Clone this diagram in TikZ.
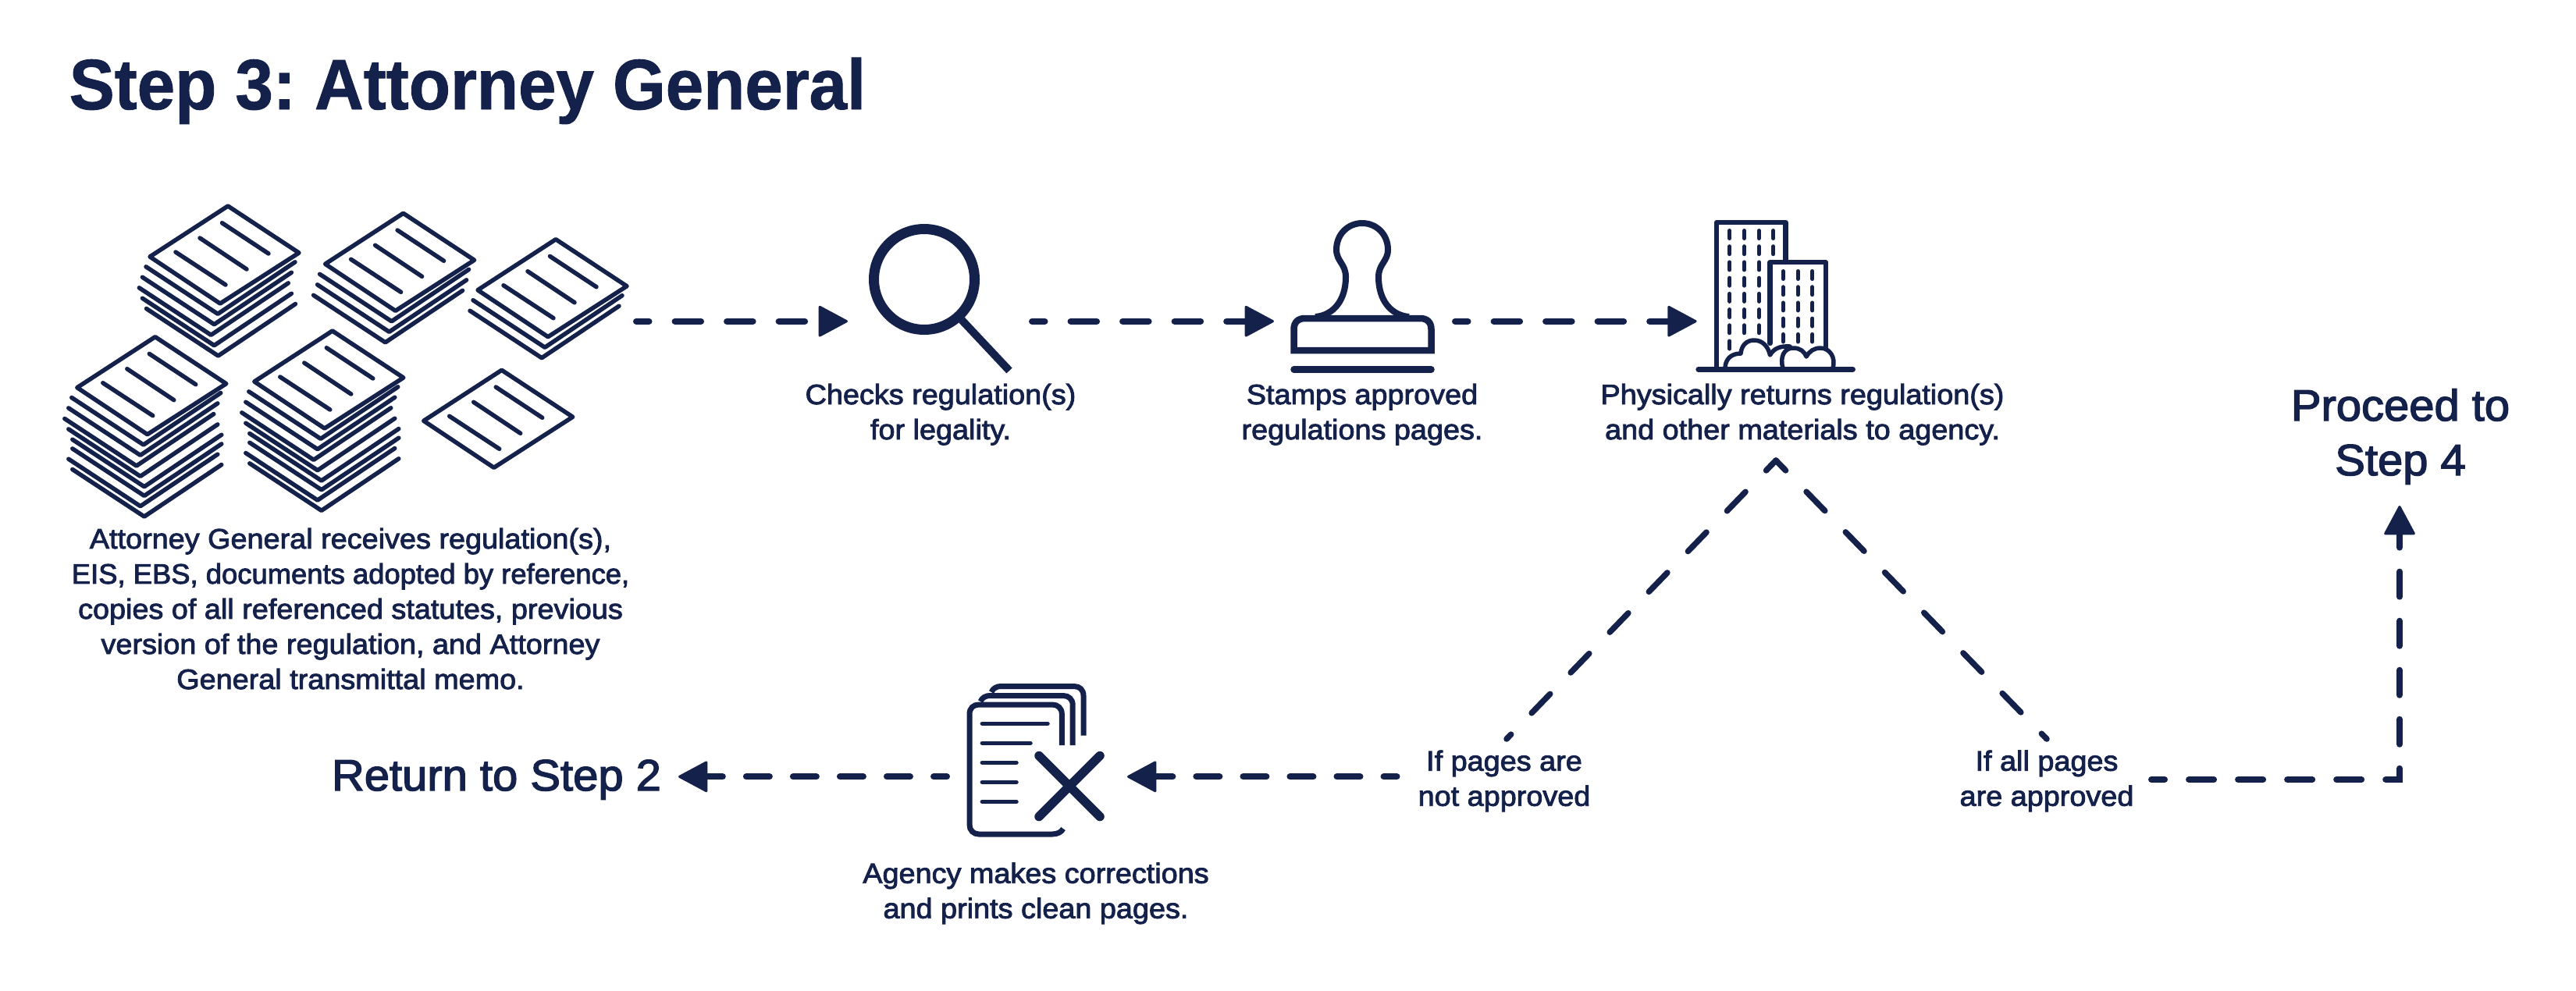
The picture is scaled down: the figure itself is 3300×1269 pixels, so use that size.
\documentclass[tikz,border=0pt]{standalone}
\usepackage{fontspec}
\usetikzlibrary{arrows.meta}
\setmainfont{Liberation Sans}
\newfontfamily\capfont[FakeBold=2.5,FakeStretch=1.05]{Liberation Sans}
\newfontfamily\capnarrow[FakeBold=2.5,FakeStretch=1.011]{Liberation Sans}
\newfontfamily\bigfont[FakeBold=2.5,FakeStretch=1.03]{Liberation Sans}
\newfontfamily\ttlfont[FakeBold=1,FakeStretch=0.952]{Liberation Sans Bold}
\definecolor{navy}{HTML}{14214B}
\tikzset{
  x=0.01cm,y=-0.01cm,
  icon/.style={draw=navy,line width=0.055cm,line join=round,line cap=round,fill=none},
  caption/.style={inner sep=0pt,text=navy,align=center,anchor=base,font=\capfont\frenchspacing\fontsize{10.24}{12.8}\selectfont},
  biglabel/.style={inner sep=0pt,text=navy,align=center,anchor=base,font=\bigfont\frenchspacing\fontsize{16}{19.9}\selectfont},
  headtip/.tip={Triangle[round,length=0.39cm,width=0.41cm,line width=0.03cm]},
  flow/.style={draw=navy,line width=0.08cm,line cap=round,dash pattern=on 0.335cm off 0.33cm,dash phase=0.17cm,-{headtip}},
  flowb/.style={draw=navy,line width=0.08cm,line cap=round,dash pattern=on 0.30cm off 0.30cm,dash phase=0.13cm,-{headtip}},
  flowc/.style={draw=navy,line width=0.08cm,line cap=round,line join=miter,dash pattern=on 0.32cm off 0.31cm,dash phase=0.15cm,-{headtip}},
  diag/.style={draw=navy,line width=0.075cm,line cap=round,dash pattern=on 0.34cm off 0.38cm,dash phase=0.16cm},
  sheet/.pic={
    \draw[icon] (0,0) -- (91,60) -- (-10,125) -- (-100,65) -- cycle;
    \draw[icon] (-7.5,21.7) -- (52,61) (-36,41) -- (24,81) (-67,59) -- (-3,101);
  },
  chev/.pic={\draw[icon] (-102,64.5) -- (-10,125) -- (89,58.5);},
  winrow/.style={draw=navy,line width=0.05cm,line cap=round,dash pattern=on 0.10cm off 0.102cm},
}
\begin{document}
\begin{tikzpicture}
\useasboundingbox (0,0) rectangle (3300,1269);
\fill[white] (0,0) rectangle (3300,1269);

\node[inner sep=0pt,anchor=base west,text=navy,font=\ttlfont\frenchspacing\fontsize{26}{30}\selectfont] (title) at (88,140) {Step 3: Attorney General};

% paper stacks
\foreach \dx/\dy in {-3/13.3,-7.6/26.7,-11.7/40.3,-7.6/53.7,-2.5/67}
  \pic at ({292+\dx},{264+\dy}) {chev};
\pic at (292,264) {sheet};
\foreach \dx/\dy in {-5/13.5,-8/27,-13/40.5}
  \pic at ({516.6+\dx},{273.3+\dy}) {chev};
\pic at (516.6,273.3) {sheet};
\foreach \dx/\dy in {-4/13.5,-8/27}
  \pic at ({712+\dx},{306.7+\dy}) {chev};
\pic at (712,306.7) {sheet};
\foreach \dx/\dy in {-5/13.3,-9/26.7,-14/40.3,-9/53.7,-4/67,-4/78.7,-9/92,-4/105.3}{
  \pic at ({198.8+\dx},{431.7+\dy}) {chev};
  \pic at ({425.8+\dx},{424+\dy}) {chev};
}
\pic at (198.8,431.7) {sheet};
\pic at (425.8,424) {sheet};
\pic at (642.7,474.3) {sheet};

% magnifier
\draw[navy,line width=0.13cm] (1184,358) circle (64.5);
\draw[navy,line width=0.10cm] (1232,410) -- (1293,475);

% stamp
\draw[icon,line width=0.08cm,line cap=butt] (1685,406) .. controls (1708,404) and (1724,385) .. (1724,355)
  .. controls (1724,338) and (1712,335) .. (1712,320)
  .. controls (1712,300) and (1727,286) .. (1745,286)
  .. controls (1763,286) and (1778,300) .. (1778,320)
  .. controls (1778,335) and (1766,338) .. (1766,355)
  .. controls (1766,385) and (1782,404) .. (1805,406);
\draw[icon,line width=0.085cm,line join=miter] (1657.5,449) -- (1657.5,422) .. controls (1657.5,413) and (1663,408) .. (1671.5,408) -- (1819.5,408) .. controls (1828,408) and (1833.5,413) .. (1833.5,422) -- (1833.5,449) -- cycle;
\draw[icon,line width=0.085cm] (1657.5,473.5) -- (1833.5,473.5);

% buildings
\draw[icon,line width=0.062cm] (2199,473) -- (2199,285) -- (2287.5,285) -- (2287.5,336);
\draw[icon,line width=0.062cm] (2267.5,440) -- (2267.5,336.3) -- (2339,336.3) -- (2339,445);
\draw[icon,line width=0.067cm] (2175.7,473.3) -- (2373.6,473.3);
\draw[winrow] (2215.8,295.5) -- (2215.8,448);
\draw[winrow] (2234.5,295.5) -- (2234.5,427);
\draw[winrow] (2253.4,295.5) -- (2253.4,427);
\draw[winrow] (2271.8,295.5) -- (2271.8,326);
\foreach \x in {2284.3,2303.2,2321.8} \draw[winrow] (\x,347.5) -- (\x,438);
\draw[icon] (2210,472) .. controls (2210,462) and (2216,453) .. (2230,453)
  .. controls (2231,442) and (2238,436) .. (2247,436)
  .. controls (2258,436) and (2265,444) .. (2267.5,455)
  .. controls (2272,447) and (2280,443) .. (2293,444);
\draw[icon] (2284,472) .. controls (2280,458) and (2285,446) .. (2297,446)
  .. controls (2306,446) and (2311,450) .. (2314,457)
  .. controls (2318,450) and (2324,446) .. (2332,446)
  .. controls (2344,446) and (2352,458) .. (2348,472);

% document + X
\draw[navy,line width=0.07cm] (1360.3,955) -- (1360.3,915) .. controls (1360.3,907.5) and (1355,903) .. (1348,903) -- (1254,903) .. controls (1247,903) and (1242,907.5) .. (1242,915) -- (1242,1057) .. controls (1242,1064) and (1247,1069) .. (1254,1069) -- (1348,1069) .. controls (1355,1069) and (1360,1066) .. (1362,1062);
\draw[navy,line width=0.07cm] (1374.2,955) -- (1374.2,903.5) .. controls (1374.2,896) and (1369,891.5) .. (1362,891.5) -- (1268,891.5) .. controls (1263,891.5) and (1258,894) .. (1256,899);
\draw[navy,line width=0.07cm] (1388,942.7) -- (1388,891.5) .. controls (1388,884) and (1383,879.5) .. (1376,879.5) -- (1282,879.5) .. controls (1277,879.5) and (1272,882) .. (1270,887);
\draw[icon] (1258.3,927.3) -- (1342,927.3) (1258.3,952.3) -- (1320,952.3) (1258.3,977.3) -- (1302,977.3) (1258.3,1002.3) -- (1302,1002.3) (1258.3,1027.3) -- (1302,1027.3);
\draw[icon,line width=0.115cm] (1331,968.5) -- (1409,1046.5) (1409,968.5) -- (1331,1046.5);

% captions
\node[caption] (c1) at (449,883) {Attorney General receives regulation(s),\\{\capnarrow\frenchspacing EIS, EBS, documents adopted by reference,}\\copies of all referenced statutes, previous\\version of the regulation, and Attorney\\General transmittal memo.};
\node[caption] (c2) at (1205,563) {Checks regulation(s)\\for legality.};
\node[caption] (c3) at (1745,563) {Stamps approved\\regulations pages.};
\node[caption] (c4) at (2309,563) {Physically returns regulation(s)\\and other materials to agency.};
\node[caption] (c5) at (1327,1176.7) {Agency makes corrections\\and prints clean pages.};
\node[caption] (ifnot) at (1927,1032.7) {If pages are\\not approved};
\node[caption] (ifall) at (2622,1032.7) {If all pages\\are approved};
\node[biglabel] (ret) at (636,1013) {Return to Step 2};
\node[biglabel] (proc) at (3075,609) {Proceed to\\Step 4};

% connector ends
\coordinate (a1s) at (815,411.7); \coordinate (a1e) at (1086,411.7);
\coordinate (a2s) at (1322,411.7); \coordinate (a2e) at (1632,411.7);
\coordinate (a3s) at (1864,411.7); \coordinate (a3e) at (2173.6,411.7);
\coordinate (a4s) at (1213,995.3); \coordinate (a4e) at (869,995.3);
\coordinate (a5s) at (1789.5,995.3); \coordinate (a5e) at (1444,995.3);
\coordinate (a6s) at (2756,999); \coordinate (a6c) at (3074,999); \coordinate (a6e) at (3074,648);
\coordinate (apex) at (2275,590); \coordinate (dl) at (1930,947); \coordinate (dr) at (2622,947);

\draw[flow] (a1s) -- (a1e);
\draw[flow] (a2s) -- (a2e);
\draw[flow] (a3s) -- (a3e);
\draw[flowb] (a4s) -- (a4e);
\draw[flowb] (a5s) -- (a5e);
\draw[flowc] (a6s) -- (a6c) -- (a6e);
\draw[diag] (apex) -- (dl);
\draw[diag] (apex) -- (dr);
\end{tikzpicture}
\end{document}
